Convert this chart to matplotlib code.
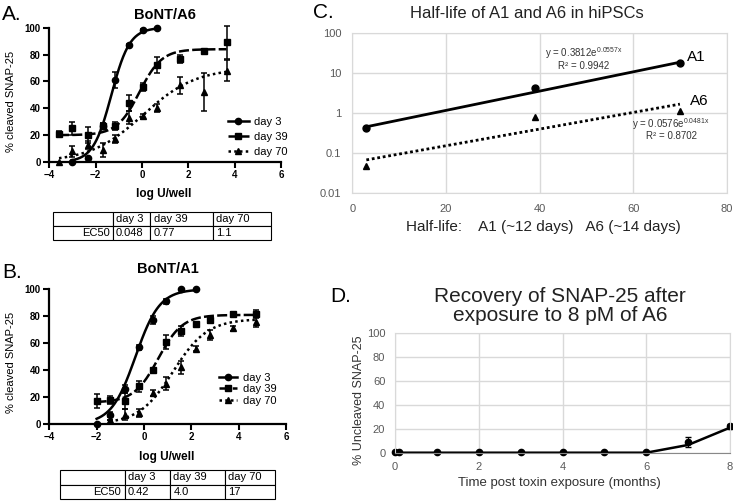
import numpy as np
import matplotlib
matplotlib.use("Agg")
import matplotlib.pyplot as plt
from matplotlib.lines import Line2D

plt.rcParams['font.family'] = ['Liberation Sans', 'DejaVu Sans']
plt.rcParams['mathtext.fontset'] = 'custom'
plt.rcParams['mathtext.rm'] = 'Liberation Sans'
plt.rcParams['mathtext.it'] = 'Liberation Sans:italic'

W, H = 733, 503

# ---- A: BoNT/A6 dose response (log U/well vs % cleaved) ----
a6_day3_x = [-3.03, -2.34, -1.69, -1.18, -0.55, 0.04, 0.65]
a6_day3_y = [0, 3, 27, 61, 87, 98, 100]
a6_day3_err = [0, 1, 2, 6, 1, 1, 0]
a6_x = [-3.58, -3.03, -2.34, -1.69, -1.18, -0.55, 0.04, 0.65, 1.66, 2.67, 3.65]
a6_day39_y = [21, 25, 20, 27, 27, 44, 56, 72, 77, 83, 89]
a6_day39_err = [2, 5, 6, 2, 3, 6, 3, 6, 3, 1, 12]
a6_day70_y = [0, 8, 13, 9, 17, 33, 34, 40, 57, 52, 68]
a6_day70_err = [0, 4, 3, 5, 3, 5, 2, 3, 6, 14, 8]
# fit params: bottom, top, logEC50, hill
a6_fit3 = (0, 100, -1.32, 1.1)
a6_fit39 = (20, 84, -0.11, 0.9)
a6_fit70 = (0, 70, 0.04, 0.38)
a6_ec50 = ["0.048", "0.77", "1.1"]

# ---- B: BoNT/A1 dose response ----
a1_day3_x = [-2.0, -1.44, -0.81, -0.2, 0.36, 0.95, 1.58, 2.19]
a1_day3_y = [0, 7, 26, 57, 77, 91, 100, 100]
a1_day3_err = [0, 2, 3, 2, 3, 2, 0, 0]
a1_day39_x = [-2.0, -1.44, -0.81, -0.2, 0.36, 0.95, 1.58, 2.19, 2.81, 3.76, 4.75]
a1_day39_y = [17, 18, 17, 28, 40, 61, 69, 74, 77, 82, 82]
a1_day39_err = [5, 3, 6, 4, 0.5, 5, 4, 1, 2, 1, 3]
a1_day70_x = [-1.44, -0.81, -0.2, 0.36, 0.95, 1.58, 2.19, 2.81, 3.76, 4.75]
a1_day70_y = [3, 7, 8, 23, 30, 42, 56, 66, 71, 76]
a1_day70_err = [0, 4, 3, 2, 5, 5, 2, 4, 2, 4]
a1_fit3 = (0, 100, -0.36, 0.85)
a1_fit39 = (16, 81, 0.6, 0.85)
a1_fit70 = (0, 78, 1.23, 0.6)
a1_ec50 = ["0.42", "4.0", "17"]

days = ["day 3", "day 39", "day 70"]

# ---- C: half-life ----
hl_days = [3, 39, 70]
hl_a1 = [0.43, 4.2, 18]
hl_a6 = [0.048, 0.78, 1.15]
a1_trend = (0.3812, 0.0557)
a6_trend = (0.0576, 0.0481)

# ---- D: recovery ----
rec_months = [0, 0.1, 1, 2, 3, 4, 5, 6, 7, 8]
rec_pts = [1, 1, 1, 1, 1, 1, 1, 1, 9, 22]
rec_err = [0, 0, 0, 0, 0, 0, 0, 0, 4, 2]
rec_line = [0, 0, 0, 0, 0, 0, 0, 0, 6.5, 21]


def box(l, t, r, b):
    return [l / W, 1 - b / H, (r - l) / W, (b - t) / H]


def logistic(x, p):
    bot, top, ec, h = p
    return bot + (top - bot) / (1 + 10 ** ((ec - x) * h))


fig = plt.figure(figsize=(W / 100, H / 100), dpi=100)

styles = [('-', 'o'), ((0, (4, 1.3)), 's'), ((0, (1, 1.3)), '^')]


def dose_panel(ax, series, fits):
    for (x, y, e), p, (ls, mk) in zip(series, fits, styles):
        xx = np.linspace(min(x), max(x), 200)
        ax.plot(xx, logistic(xx, p), color='k', lw=1.8, ls=ls, clip_on=False)
        ax.errorbar(x, y, yerr=e, fmt=mk, color='k', ms=4.5, capsize=2.5,
                    elinewidth=1.1, capthick=1.1, clip_on=False)
    ax.set_xlim(-4, 6)
    ax.set_ylim(0, 100)
    ax.set_xticks([-4, -2, 0, 2, 4, 6])
    ax.set_yticks([0, 20, 40, 60, 80, 100])
    for s in ['top', 'right']:
        ax.spines[s].set_visible(False)
    for s in ['left', 'bottom']:
        ax.spines[s].set_linewidth(1.6)
    ax.tick_params(direction='out', length=4, width=1.5, labelsize=7, pad=2)
    for lbl in ax.get_xticklabels() + ax.get_yticklabels():
        lbl.set_fontweight('bold')
    ax.set_ylabel('% cleaved SNAP-25', fontsize=8)
    ax.set_xlabel('log U/well', fontsize=8.5, fontweight='bold')


def legend_handles():
    return [Line2D([], [], color='k', lw=1.8, ls=ls, marker=mk, ms=4.5)
            for ls, mk in styles]


def ec50_table(rect, widths, vals):
    tax = fig.add_axes(rect)
    tax.axis('off')
    cells = [[""] + days, ["EC50"] + vals]
    tb = tax.table(cellText=cells, bbox=[0, 0, 1, 1], colWidths=widths)
    tb.auto_set_font_size(False)
    for (r, c), cell in tb.get_celld().items():
        cell.set_linewidth(0.8)
        cell.get_text().set_fontsize(8)
        cell.set_text_props(ha='right' if c == 0 else 'left')
        cell.PAD = 0.06


# panel A
axA = fig.add_axes(box(49.3, 27.7, 281, 162))
dose_panel(axA,
           [(a6_day3_x, a6_day3_y, a6_day3_err),
            (a6_x, a6_day39_y, a6_day39_err),
            (a6_x, a6_day70_y, a6_day70_err)],
           [a6_fit3, a6_fit39, a6_fit70])
axA.yaxis.set_label_coords(-0.145, 0.45)
axA.xaxis.set_label_coords(0.495, -0.19)
axA.legend(legend_handles(), days, loc='upper left', frameon=False, fontsize=8,
           bbox_to_anchor=(222 / W, 1 - 111 / H), bbox_transform=fig.transFigure,
           borderpad=0, handlelength=1.9, handletextpad=0.5, labelspacing=0.45)
ec50_table(box(52.7, 212.3, 271, 240.3), [60.6, 36.7, 62.7, 58.3], a6_ec50)

# panel B
axB = fig.add_axes(box(49.3, 289.3, 286, 424))
dose_panel(axB,
           [(a1_day3_x, a1_day3_y, a1_day3_err),
            (a1_day39_x, a1_day39_y, a1_day39_err),
            (a1_day70_x, a1_day70_y, a1_day70_err)],
           [a1_fit3, a1_fit39, a1_fit70])
axB.yaxis.set_label_coords(-0.142, 0.46)
axB.xaxis.set_label_coords(0.497, -0.2)
axB.legend(legend_handles(), days, loc='upper left', frameon=False, fontsize=8,
           bbox_to_anchor=(213 / W, 1 - 367 / H), bbox_transform=fig.transFigure,
           borderpad=0, handlelength=1.7, handletextpad=0.5, labelspacing=0.15)
ec50_table(box(60, 470, 275, 499), [65, 45, 55, 50], a1_ec50)

fig.text(2 / W, 1 - 15 / H, "A.", fontsize=15, va='center')
fig.text(165 / W, 1 - 15 / H, "BoNT/A6", fontsize=10.5, fontweight='bold', ha='center', va='center')
fig.text(2 / W, 1 - 273 / H, "B.", fontsize=15, va='center')
fig.text(168 / W, 1 - 269 / H, "BoNT/A1", fontsize=10.5, fontweight='bold', ha='center', va='center')

# panel C
grid_c = '#d9d9d9'
tick_c = '#595959'
axC = fig.add_axes(box(352.3, 33.3, 726.7, 192.7))
axC.set_yscale('log')
xx = np.linspace(min(hl_days), max(hl_days), 100)
axC.plot(xx, a1_trend[0] * np.exp(a1_trend[1] * xx), color='k', lw=2)
axC.plot(xx, a6_trend[0] * np.exp(a6_trend[1] * xx), color='k', lw=2, ls=(0, (1, 1)))
axC.plot(hl_days, hl_a1, 'o', color='k', ms=5)
axC.plot(hl_days, hl_a6, '^', color='k', ms=5)
axC.set_xlim(0, 80)
axC.set_ylim(0.01, 100)
axC.set_xticks([0, 20, 40, 60, 80])
axC.set_yticks([0.01, 0.1, 1, 10, 100])
axC.set_yticklabels(['0.01', '0.1', '1', '10', '100'])
axC.minorticks_off()
axC.grid(True, color=grid_c, lw=1)
axC.set_axisbelow(True)
for s in axC.spines.values():
    s.set_color(grid_c)
axC.tick_params(length=0, labelsize=8, labelcolor=tick_c, pad=8)
eq_c = '#333333'
axC.text(49.5, 10 ** 1.51, r"y = 0.3812e$^{\mathrm{0.0557x}}$", fontsize=7, ha='center', va='center', color=eq_c)
axC.text(49.5, 10 ** 1.19, "R² = 0.9942", fontsize=7, ha='center', va='center', color=eq_c)
axC.text(71.5, 10 ** 1.415, "A1", fontsize=11, va='center')
axC.text(72.2, 10 ** 0.29, "A6", fontsize=11, va='center')
axC.text(68, 10 ** -0.27, r"y = 0.0576e$^{\mathrm{0.0481x}}$", fontsize=7, ha='center', va='center', color=eq_c)
axC.text(68.2, 10 ** -0.57, "R² = 0.8702", fontsize=7, ha='center', va='center', color=eq_c)
fig.text(527 / W, 1 - 13.5 / H, "Half-life of A1 and A6 in hiPSCs", fontsize=12, ha='center', va='center', color='#222222')
fig.text(543 / W, 1 - 227 / H, "Half-life:    A1 (~12 days)   A6 (~14 days)", fontsize=11, ha='center', va='center', color='#222222')
fig.text(313 / W, 1 - 13 / H, "C.", fontsize=15, va='center')

# panel D
axD = fig.add_axes(box(395, 333.3, 730, 452.7))
axD.plot(rec_months, rec_line, color='k', lw=1.8)
axD.errorbar(rec_months, rec_pts, yerr=rec_err, fmt='o', color='k', ms=4.5,
             capsize=2, elinewidth=0.8, clip_on=False)
axD.set_xlim(0, 8)
axD.set_ylim(0, 100)
axD.set_xticks([0, 2, 4, 6, 8])
axD.set_yticks([0, 20, 40, 60, 80, 100])
axD.grid(True, color=grid_c, lw=1)
axD.set_axisbelow(True)
for s in axD.spines.values():
    s.set_color(grid_c)
axD.spines['bottom'].set_color('#888888')
axD.tick_params(length=0, labelsize=8, labelcolor=tick_c, pad=7)
axD.set_ylabel('% Uncleaved SNAP-25', fontsize=9, color='#333333')
axD.yaxis.set_label_coords(-0.09, 0.44)
axD.set_xlabel('Time post toxin exposure (months)', fontsize=9.5, color='#333333')
axD.xaxis.set_label_coords(0.49, -0.2)
fig.text(560 / W, 1 - 306 / H, "Recovery of SNAP-25 after\nexposure to 8 pM of A6", fontsize=15,
         ha='center', va='center', linespacing=1.0, color='#222222')
fig.text(330 / W, 1 - 297 / H, "D.", fontsize=15, va='center')

fig.savefig("out.png", dpi=100)
